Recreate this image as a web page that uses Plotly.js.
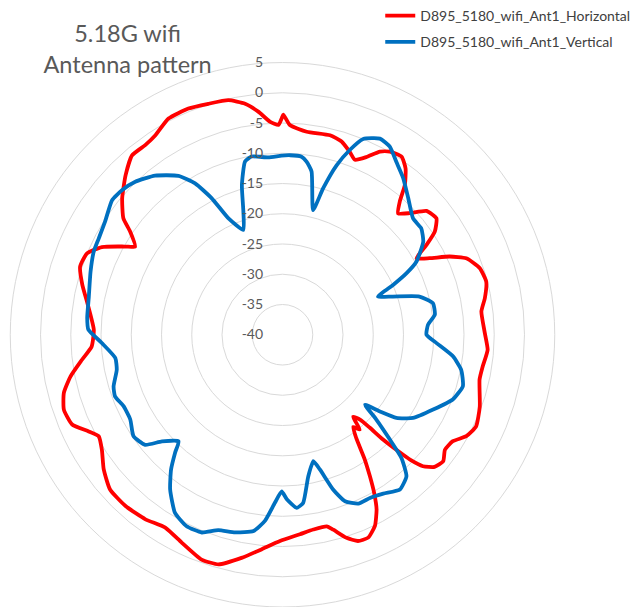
<!DOCTYPE html>
<html>
<head>
<meta charset="utf-8">
<script src="https://cdn.plot.ly/plotly-3.0.1.min.js"></script>
<style>html,body{margin:0;padding:0;background:#fff;}#chart{width:638px;height:607px;}</style>
</head>
<body>
<div id="chart"></div>
<script>
// Angle (deg, clockwise from top) and gain (dB)
const hTheta = [0.2,2.0,6.8,13.4,17.0,20.2,22.5,25.3,28.0,30.4,33.8,36.5,39.2,41.4,43.6,46.3,49.3,52.9,55.9,58.0,60.3,62.5,64.9,67.4,71.3,75.4,79.7,83.3,89.1,94.2,99.0,102.8,110.0,115.3,118.9,122.0,125.3,128.2,131.0,133.1,134.4,135.2,136.2,136.8,137.6,139.3,140.8,142.5,144.5,146.6,148.3,149.9,151.7,154.2,157.1,159.9,162.5,165.4,167.0,171.0,175.0,180.7,185.5,190.4,195.6,199.8,205.8,211.3,216.6,222.5,228.1,233.0,237.5,241.1,243.5,246.9,251.1,255.1,258.9,262.9,266.5,271.5,279.7,284.0,288.6,292.6,295.9,299.3,300.9,304.1,306.2,310.4,315.5,320.0,324.1,327.5,332.2,337.4,342.2,347.0,350.8,353.8,356.6,358.9,359.8];
const hGain = [-3.6,-5.3,-6.2,-6.1,-6.6,-7.8,-8.7,-7.5,-5.7,-4.9,-4.6,-5.8,-8.0,-10.7,-12.3,-10.9,-8.6,-8.1,-9.6,-11.9,-14.5,-12.6,-9.5,-7.1,-5.6,-5.2,-6.0,-6.9,-6.6,-6.0,-6.5,-6.6,-5.3,-4.6,-5.3,-6.8,-7.1,-6.2,-6.7,-8.2,-10.5,-12.9,-16.0,-18.9,-21.0,-22.1,-19.8,-20.8,-19.0,-15.3,-12.5,-9.8,-7.2,-4.9,-3.6,-3.7,-4.8,-6.7,-7.5,-7.4,-6.9,-5.9,-4.4,-2.5,-0.6,-0.5,-1.8,-2.7,-2.0,-1.6,-1.7,-3.0,-4.6,-5.3,-4.2,-2.2,-1.8,-2.6,-4.3,-6.6,-8.4,-8.8,-7.2,-5.9,-4.7,-5.0,-6.8,-10.2,-11.6,-9.6,-7.4,-5.2,-3.0,-1.3,-1.3,-0.9,0.4,0.5,0.1,-0.2,-1.3,-2.9,-4.7,-5.3,-4.2];

const vTheta = [2.4,6.1,7.9,10.1,13.8,15.5,17.7,20.0,22.4,26.4,29.7,33.4,37.6,42.6,48.3,52.5,56.5,61.4,63.6,65.7,68.2,70.9,74.4,78.1,82.5,86.1,90.0,93.1,97.2,101.1,105.9,110.8,116.4,122.5,126.1,128.2,130.3,132.1,134.3,136.0,138.8,142.8,147.6,151.8,155.8,159.4,161.9,164.5,166.3,169.7,173.0,175.3,178.5,180.3,182.6,185.4,188.4,193.5,198.2,202.2,206.6,211.1,216.0,219.6,222.3,224.3,228.5,231.3,235.7,240.9,245.8,249.8,253.0,258.1,262.1,267.4,271.5,274.9,280.7,288.2,293.8,297.7,302.6,308.3,312.1,316.1,321.3,326.8,330.0,332.6,335.1,339.5,342.4,344.8,347.8,350.2,355.4,359.7];
const vGain = [-10.3,-10.4,-11.1,-12.6,-18.8,-14.9,-10.6,-7.5,-5.0,-3.8,-4.2,-5.8,-7.3,-9.3,-11.1,-11.1,-12.1,-14.8,-17.1,-19.9,-23.0,-20.7,-16.5,-14.6,-14.6,-15.9,-16.2,-14.5,-11.6,-9.9,-9.0,-9.9,-12.2,-14.4,-16.7,-19.5,-22.1,-19.1,-15.2,-11.7,-8.9,-7.9,-8.9,-9.4,-9.4,-10.6,-13.1,-16.9,-18.5,-16.2,-12.0,-11.3,-12.8,-14.1,-12.2,-9.1,-7.2,-6.4,-6.0,-4.7,-4.6,-5.6,-8.4,-11.1,-13.6,-15.4,-13.4,-10.9,-10.2,-11.2,-11.2,-10.5,-10.8,-12.0,-12.1,-10.1,-7.9,-7.6,-7.4,-6.6,-5.9,-5.7,-5.2,-4.1,-4.3,-4.9,-6.3,-8.6,-11.1,-14.6,-18.8,-21.5,-18.6,-14.4,-10.7,-10.1,-10.6,-10.4];

const seriesNames = ["D895_5180_wifi_Ant1_Horizontal", "D895_5180_wifi_Ant1_Vertical"];
const tickVals = [-40,-35,-30,-25,-20,-15,-10,-5,0,5];
const tickText = ["-40","-35","-30","-25","-20","-15","-10","-5","0","5"];

const closeLoop = a => a.concat([a[0]]);
const font = "Lato, 'Open Sans', 'Liberation Sans', sans-serif";

const traces = [
  {type:"scatterpolar", mode:"lines", name:seriesNames[0], legendgroup:"h",
   theta: closeLoop(hTheta), r: closeLoop(hGain),
   line:{color:"#ff0000", width:3.8, shape:"spline", smoothing:0.5}},
  {type:"scatterpolar", mode:"lines", name:seriesNames[1], legendgroup:"v",
   theta: closeLoop(vTheta), r: closeLoop(vGain),
   line:{color:"#0070c0", width:3.8, shape:"spline", smoothing:0.5}}
];

const layout = {
  width:638, height:607,
  margin:{l:0,r:0,t:0,b:0},
  paper_bgcolor:"#ffffff",
  font:{family:font, color:"#595959"},
  title:{text:"5.18G wifi<br>Antenna pattern", x:0.2, xanchor:"center", y:0.93, yanchor:"top",
         font:{family:font, size:23.5, color:"#595959"}},
  showlegend:true,
  legend:{x:0.596, y:1.0, xanchor:"left", yanchor:"top", traceorder:"grouped", tracegroupgap:5,
          font:{family:font, size:14, color:"#404040"}, bgcolor:"rgba(0,0,0,0)"},
  polar:{
    domain:{x:[0.0157,0.8699], y:[0.0,0.897]},
    bgcolor:"#ffffff",
    radialaxis:{range:[-40,5], tickvals:tickVals, ticktext:tickText, angle:90, side:"counterclockwise",
                tickangle:90,
                showline:false, ticks:"outside", ticklen:14, tickcolor:"rgba(0,0,0,0)",
                gridcolor:"#d9d9d9", gridwidth:1, tickfont:{family:font, size:14, color:"#595959"}},
    angularaxis:{rotation:90, direction:"clockwise", showgrid:false, showticklabels:false, ticks:"",
                 showline:true, linecolor:"#d9d9d9", linewidth:1}
  }
};

Plotly.newPlot("chart", traces, layout, {staticPlot:true, displayModeBar:false});
</script>
</body>
</html>
